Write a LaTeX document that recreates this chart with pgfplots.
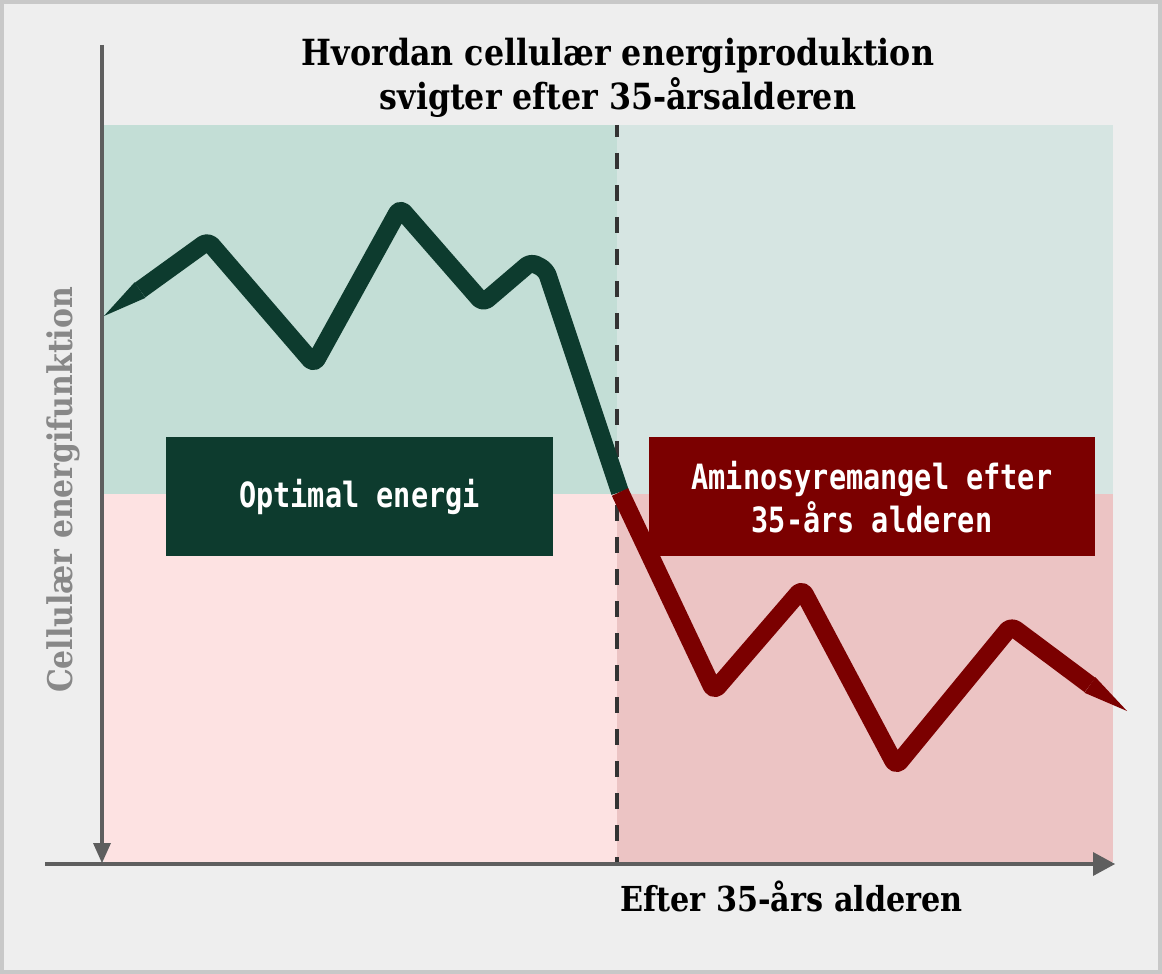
\documentclass[border=0pt]{standalone}
\usepackage{pgfplots}
\pgfplotsset{compat=1.18}
\usepackage{fontspec}
\setmainfont{DejaVu Serif}
\newfontfamily\titlefont[FakeStretch=0.88]{DejaVu Serif}
\newfontfamily\monofont[FakeStretch=0.82]{DejaVu Sans Mono}
\definecolor{bgc}{HTML}{EEEEEE}
\definecolor{framec}{HTML}{C8C8C8}
\definecolor{tlc}{HTML}{C3DED6}
\definecolor{trc}{HTML}{D6E5E2}
\definecolor{blc}{HTML}{FDE2E2}
\definecolor{brc}{HTML}{ECC4C4}
\definecolor{darkgreen}{HTML}{0D3B2E}
\definecolor{darkred}{HTML}{7B0000}
\definecolor{axisc}{HTML}{5E5E5E}
\definecolor{dashc}{HTML}{333333}
\definecolor{ylabc}{HTML}{888888}
\begin{document}
\begin{tikzpicture}
\begin{axis}[at={(0,0)}, anchor=south west, scale only axis,
  width=581pt, height=487pt, xmin=0, xmax=1162, ymin=0, ymax=974,
  y dir=reverse, hide axis, clip=false]
% frame and background
\addplot[fill=framec, draw=none] coordinates {(0,0)(1162,0)(1162,974)(0,974)} --cycle;
\addplot[fill=bgc, draw=none] coordinates {(4,4)(1158,4)(1158,970)(4,970)} --cycle;
% regions
\addplot[fill=tlc, draw=none] coordinates {(104,125)(617,125)(617,494)(104,494)} --cycle;
\addplot[fill=trc, draw=none] coordinates {(617,125)(1113,125)(1113,494)(617,494)} --cycle;
\addplot[fill=blc, draw=none] coordinates {(104,494)(617,494)(617,862)(104,862)} --cycle;
\addplot[fill=brc, draw=none] coordinates {(617,494)(1113,494)(1113,862)(617,862)} --cycle;
% dashed divider
\addplot[dashc, line width=2pt, dash pattern=on 8pt off 8pt, dash phase=2pt] coordinates {(617,125)(617,862)};
% axes
\draw[axisc, line width=2pt] (axis cs:102,45) -- (axis cs:102,848);
\fill[axisc] (axis cs:93,843) -- (axis cs:111,843) -- (axis cs:102,863) -- cycle;
\draw[axisc, line width=2pt] (axis cs:45,864) -- (axis cs:1096,864);
\fill[axisc] (axis cs:1093,852) -- (axis cs:1115,864) -- (axis cs:1093,876) -- cycle;
% green line (tapered start)
\addplot[fill=darkgreen, draw=none] coordinates {(104,316)(134.6,282.3)(145.4,297.9)} --cycle;
\addplot[darkgreen, line width=9pt, line join=round, line cap=butt, rounded corners=3pt]
  coordinates {(140,290.1)(208,241)(314,364)(400,208)(483,303)(531,262)(546,270)(620,492)};
% red line (tapered end)
\addplot[darkred, line width=9pt, line join=round, line cap=butt, rounded corners=3pt]
  coordinates {(620,492)(714,691)(802,589)(896,766)(1011,626)(1090,685)};
\addplot[fill=darkred, draw=none] coordinates {(1084.6,692.8)(1095.4,677.2)(1127,711)} --cycle;
% boxes
\fill[darkgreen] (axis cs:166,437) rectangle (axis cs:553,556);
\node[text=white, font=\monofont\bfseries\fontsize{17.4}{21.5}\selectfont] at (axis cs:359.5,496.5) {Optimal energi};
\fill[darkred] (axis cs:649,437) rectangle (axis cs:1095,556);
\node[text=white, align=center, font=\monofont\bfseries\fontsize{17.4}{21.5}\selectfont] at (axis cs:872,497) {Aminosyremangel efter\\35-års alderen};
% titles
\node[anchor=base, font=\titlefont\bfseries\fontsize{18}{22}\selectfont] at (axis cs:618,66) {Hvordan cellulær energiproduktion};
\node[anchor=base, font=\titlefont\bfseries\fontsize{18}{22}\selectfont] at (axis cs:618,110) {svigter efter 35-årsalderen};
\node[anchor=base west, inner sep=0pt, font=\titlefont\bfseries\fontsize{17.2}{20}\selectfont] at (axis cs:620,911) {Efter 35-års alderen};
\node[rotate=90, anchor=base, text=ylabc, font=\titlefont\bfseries\fontsize{17}{20}\selectfont] at (axis cs:72,490) {Cellulær energifunktion};
\end{axis}
\end{tikzpicture}
\end{document}
